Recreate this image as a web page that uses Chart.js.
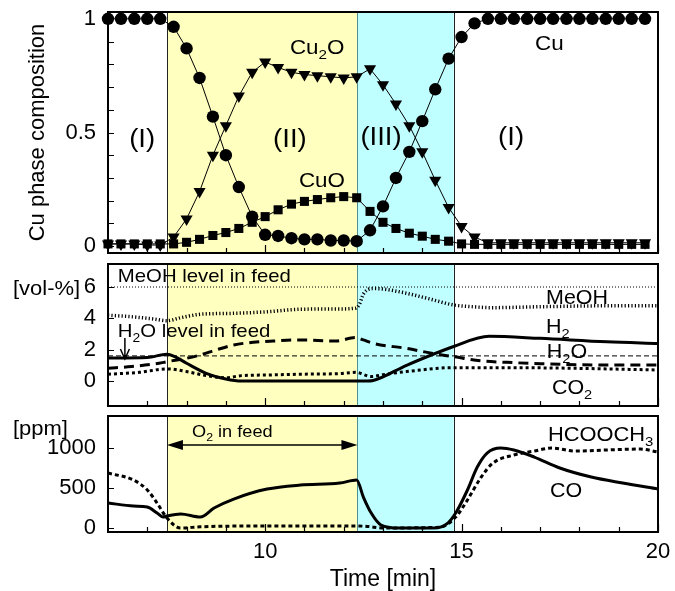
<!DOCTYPE html>
<html><head><meta charset="utf-8">
<script src="https://cdn.jsdelivr.net/npm/chart.js@4.4.1/dist/chart.umd.min.js"></script>
<style>
html,body{margin:0;padding:0;background:#fff;width:675px;height:591px;overflow:hidden;}
canvas{position:absolute;left:0;}
</style></head><body>
<canvas id="c1" width="675" height="260" style="top:0px"></canvas>
<canvas id="c2" width="675" height="150" style="top:260px"></canvas>
<canvas id="c3" width="675" height="181" style="top:410px"></canvas>
<script>
// ================= DATA =================
const phaseBounds = [7.5, 12.35, 14.8];          // (I) | (II) | (III) | (I)
const xMinorTicks = [7, 8, 9, 11, 12, 13, 14, 16, 17, 18, 19];
const xMajorTicks = [10, 15, 20];

// --- top panel: Cu phase composition ---
const compTime = [6.0, 6.33, 6.67, 7.0, 7.33, 7.67, 8.0, 8.33, 8.67, 9.0, 9.33, 9.67, 10.0, 10.33,
  10.67, 11.0, 11.33, 11.67, 12.0, 12.33, 12.67, 13.0, 13.33, 13.67, 14.0, 14.33, 14.67, 15.0,
  15.33, 15.67, 16.0, 16.33, 16.67, 17.0, 17.33, 17.67, 18.0, 18.33, 18.67, 19.0, 19.33, 19.67];
const cuPhase = [1, 1, 1, 1, 1, 0.965, 0.87, 0.74, 0.57, 0.40, 0.26, 0.13, 0.05, 0.045,
  0.035, 0.03, 0.03, 0.025, 0.025, 0.022, 0.07, 0.175, 0.30, 0.415, 0.55, 0.69, 0.825, 0.92,
  0.98, 1, 1, 1, 1, 1, 1, 1, 1, 1, 1, 1, 1, 1];
const cu2oPhase = [0.01, 0.01, 0.01, 0.005, 0.005, 0.04, 0.12, 0.24, 0.40, 0.53, 0.66, 0.765, 0.81, 0.786,
  0.765, 0.755, 0.75, 0.745, 0.74, 0.745, 0.78, 0.71, 0.625, 0.53, 0.415, 0.29, 0.17, 0.087,
  0.04, 0.015, 0.015, 0.015, 0.015, 0.015, 0.015, 0.015, 0.015, 0.015, 0.015, 0.015, 0.015, 0.015];
const cuoPhase = [0.01, 0.01, 0.01, 0.01, 0.01, 0.01, 0.017, 0.03, 0.047, 0.06, 0.078, 0.105, 0.13, 0.16,
  0.185, 0.197, 0.205, 0.213, 0.218, 0.213, 0.153, 0.105, 0.078, 0.057, 0.044, 0.03, 0.022, 0.01,
  0.008, 0.008, 0.008, 0.008, 0.008, 0.008, 0.008, 0.008, 0.008, 0.008, 0.008, 0.008, 0.008, 0.008];
const compTicks = [0, 0.1, 0.2, 0.3, 0.4, 0.5, 0.6, 0.7, 0.8, 0.9, 1];
const compTickLabels = [0, 0.5, 1];

// --- middle panel: gas phase [vol-%] ---
const meohTime = [6.0, 6.6, 7.15, 7.5, 7.85, 8.35, 9.2, 10.05, 10.9, 11.9, 12.3, 12.4, 12.5, 12.75,
  13.0, 13.6, 14.2, 14.8, 15.3, 15.75, 17.0, 18.7, 20.0];
const meohVol = [4.2, 4.1, 3.96, 3.85, 4.04, 4.26, 4.32, 4.42, 4.58, 4.6, 4.65, 4.9, 5.55, 5.9,
  5.87, 5.6, 5.23, 4.85, 4.74, 4.68, 4.74, 4.8, 4.8];
const h2Time = [6.0, 7.0, 7.5, 7.7, 8.0, 8.5, 9.0, 9.4, 12.6, 12.75, 13.6, 14.8, 15.7, 17.0, 18.7, 20.0];
const h2Vol = [1.47, 1.5, 1.7, 1.55, 1.13, 0.49, 0.13, 0.0, 0.0, 0.03, 1.0, 2.2, 2.85, 2.72, 2.5, 2.4];
const h2oTime = [6.0, 6.6, 7.3, 7.5, 8.0, 8.35, 8.75, 9.2, 9.7, 10.2, 10.9, 11.8, 12.3, 12.5, 12.75,
  13.6, 14.3, 14.8, 15.5, 16.15, 17.0, 18.7, 20.0];
const h2oVol = [0.81, 0.92, 1.13, 1.23, 1.45, 1.66, 1.98, 2.3, 2.47, 2.55, 2.62, 2.55, 2.77, 2.62, 2.4,
  2.08, 1.74, 1.55, 1.28, 1.19, 1.1, 1.02, 1.02];
const co2Time = [6.0, 6.8, 7.5, 8.0, 8.5, 9.0, 9.4, 10.05, 10.9, 11.9, 12.3, 12.7, 13.0, 13.6, 14.8, 16.2, 17.8, 20.0];
const co2Vol = [0.43, 0.55, 0.77, 0.6, 0.34, 0.21, 0.34, 0.38, 0.43, 0.47, 0.55, 0.28, 0.4, 0.6, 0.85, 0.85, 0.81, 0.7];
const levelTime = [6, 20];
const meohFeedLevel = [6, 6];
const h2oFeedLevel = [1.6, 1.6];
const volTicks = [0, 2, 4, 6];

// --- bottom panel: [ppm] ---
const coTime = [6.0, 6.65, 7.0, 7.25, 7.4, 7.5, 7.85, 8.35, 8.7, 9.2, 10.05, 10.9, 11.9, 12.33, 12.5,
  12.7, 12.95, 13.4, 14.3, 14.65, 14.85, 15.15, 15.4, 15.65, 16.0, 16.33, 16.85, 17.5, 18.3, 19.1, 20.0];
const coPpm = [312, 275, 262, 187, 137, 150, 175, 137, 250, 362, 487, 537, 562, 600, 387,
  187, 37, 0, 0, 62, 187, 475, 762, 937, 1000, 975, 887, 750, 637, 562, 487];
const hcTime = [6.0, 6.65, 7.0, 7.25, 7.5, 7.85, 8.35, 10.0, 12.33, 12.6, 13.0, 14.45, 14.85, 15.15,
  15.5, 15.8, 16.33, 16.85, 17.3, 17.9, 18.7, 19.55, 20.0];
const hcPpm = [687, 600, 475, 312, 125, 0, 15, 25, 25, 20, 0, 10, 137, 350,
  637, 812, 912, 962, 1000, 962, 975, 987, 950];
const ppmTicks = [0, 500, 1000];

// ================= RENDERING =================
const FONT = '"Liberation Sans", Arial, Helvetica, sans-serif';
Chart.defaults.font.family = FONT;
Chart.defaults.color = '#000';
const pts = (xs, ys) => xs.map((x, i) => ({x: x, y: ys[i]}));

function richParts(str) {
  const parts = []; const re = /_\{([^}]*)\}/g; let last = 0, m;
  while ((m = re.exec(str))) {
    if (m.index > last) parts.push([str.slice(last, m.index), false]);
    parts.push([m[1], true]); last = re.lastIndex;
  }
  if (last < str.length) parts.push([str.slice(last), false]);
  return parts;
}
function drawRich(ctx, str, x, y, size, align, sx) {
  const parts = richParts(str);
  const main = size + 'px ' + FONT, sub = (size * 0.68).toFixed(1) + 'px ' + FONT;
  ctx.save(); ctx.translate(x, y); ctx.scale(sx, 1);
  let w = 0;
  parts.forEach(p => { ctx.font = p[1] ? sub : main; w += ctx.measureText(p[0]).width; });
  let cx = align === 'center' ? -w / 2 : (align === 'right' ? -w : 0);
  ctx.textBaseline = 'alphabetic'; ctx.textAlign = 'left'; ctx.fillStyle = '#000';
  const base = size * 0.36;
  parts.forEach(p => {
    ctx.font = p[1] ? sub : main;
    ctx.fillText(p[0], cx, p[1] ? base + size * 0.27 : base);
    cx += ctx.measureText(p[0]).width;
  });
  ctx.restore();
}

const phaseColors = ['#ffffc0', '#c0ffff'];
const boundaryColors = ['#222', '#4f8f8f', '#222'];

const panelPlugin = {
  id: 'panel',
  beforeDatasetsDraw(chart) {
    const {ctx, chartArea: a} = chart; const x = chart.scales.x;
    ctx.save();
    for (let i = 0; i < 2; i++) {
      const x0 = x.getPixelForValue(phaseBounds[i]), x1 = x.getPixelForValue(phaseBounds[i + 1]);
      ctx.fillStyle = phaseColors[i]; ctx.fillRect(x0, a.top, x1 - x0, a.bottom - a.top);
    }
    ctx.lineWidth = 1;
    phaseBounds.forEach((b, i) => {
      const px = Math.round(x.getPixelForValue(b)) + 0.5;
      ctx.strokeStyle = boundaryColors[i]; ctx.beginPath(); ctx.moveTo(px, a.top); ctx.lineTo(px, a.bottom); ctx.stroke();
    });
    ctx.restore();
  },
  afterDatasetsDraw(chart, args, opts) {
    const {ctx, chartArea: a} = chart; const x = chart.scales.x, y = chart.scales.y;
    ctx.save();
    ctx.strokeStyle = '#000'; ctx.lineWidth = 1.2;
    ctx.beginPath();
    y.ticks.forEach(t => { const py = Math.round(y.getPixelForValue(t.value)) + 0.5; ctx.moveTo(a.left, py); ctx.lineTo(a.left + 6, py); });
    xMinorTicks.forEach(v => { const px = Math.round(x.getPixelForValue(v)) + 0.5; ctx.moveTo(px, a.bottom); ctx.lineTo(px, a.bottom - 5); });
    xMajorTicks.forEach(v => { const px = Math.round(x.getPixelForValue(v)) + 0.5; ctx.moveTo(px, a.bottom); ctx.lineTo(px, a.bottom - 8); });
    ctx.stroke();
    ctx.lineWidth = 2;
    ctx.strokeRect(a.left, a.top, a.right - a.left, a.bottom - a.top);
    (opts.arrows || []).forEach(ar => {
      ctx.lineWidth = 1.5; ctx.strokeStyle = '#000'; ctx.fillStyle = '#000';
      if (ar.type === 'down') {
        const px = x.getPixelForValue(ar.x), p0 = y.getPixelForValue(ar.y0), p1 = y.getPixelForValue(ar.y1);
        ctx.beginPath(); ctx.moveTo(px, p0); ctx.lineTo(px, p1);
        ctx.moveTo(px - 4.5, p1 - 10); ctx.lineTo(px, p1); ctx.lineTo(px + 4.5, p1 - 10); ctx.stroke();
      } else {
        const x0 = x.getPixelForValue(ar.x0), x1 = x.getPixelForValue(ar.x1), py = y.getPixelForValue(ar.y);
        ctx.beginPath(); ctx.moveTo(x0 + 10, py); ctx.lineTo(x1 - 10, py); ctx.stroke();
        ctx.beginPath(); ctx.moveTo(x0, py); ctx.lineTo(x0 + 16, py - 5); ctx.lineTo(x0 + 16, py + 5); ctx.closePath(); ctx.fill();
        ctx.beginPath(); ctx.moveTo(x1, py); ctx.lineTo(x1 - 16, py - 5); ctx.lineTo(x1 - 16, py + 5); ctx.closePath(); ctx.fill();
      }
    });
    (opts.labels || []).forEach(l => {
      drawRich(ctx, l.text, x.getPixelForValue(l.x), y.getPixelForValue(l.y), l.size, l.align || 'left', l.sx || 1.1);
    });
    ctx.restore();
  }
};
Chart.register(panelPlugin);

function zeroPad(s) { s.paddingTop = 0; s.paddingBottom = 0; s.paddingLeft = 0; s.paddingRight = 0; }

function makeOptions(cfg) {
  return {
    responsive: false, animation: false, events: [],
    layout: {padding: {left: 0, right: 17, top: cfg.padTop, bottom: cfg.padBottom}},
    plugins: {legend: {display: false}, tooltip: {enabled: false},
      panel: {labels: cfg.labels, arrows: cfg.arrows || []}},
    elements: {point: {radius: 0}},
    scales: {
      x: {type: 'linear', min: 6, max: 20, display: !!cfg.showX,
        grid: {display: false, drawTicks: false}, border: {display: false},
        ticks: {stepSize: 1, autoSkip: false, maxRotation: 0, padding: 7, font: {size: 22}, color: '#000',
          callback: v => xMajorTicks.includes(v) ? String(v) : ''},
        afterBuildTicks: s => { s.ticks = xMajorTicks.map(v => ({value: v})); },
        title: {display: !!cfg.showX, text: 'Time [min]', font: {size: 23, lineHeight: 1}, padding: 0, color: '#000'},
        afterFit: s => { zeroPad(s); if (cfg.showX) s.height = cfg.xHeight; }},
      y: {type: 'linear', min: cfg.yMin, max: cfg.yMax,
        grid: {display: false, drawTicks: false}, border: {display: false},
        ticks: {autoSkip: false, padding: 12, font: {size: 22}, color: '#000', callback: cfg.yLabel},
        afterBuildTicks: s => { s.ticks = cfg.yTicks.map(v => ({value: v})); },
        title: cfg.yTitle || {display: false},
        afterFit: s => { zeroPad(s); s.width = 108; }}
    }
  };
}

// ---- chart 1 ----
new Chart(document.getElementById('c1'), {
  type: 'line',
  data: {datasets: [
    {data: pts(compTime, cuPhase), borderColor: '#000', backgroundColor: '#000', borderWidth: 1,
      pointStyle: 'circle', pointRadius: 6.2, pointBorderWidth: 0, pointBackgroundColor: '#000', tension: 0, clip: false},
    {data: pts(compTime, cu2oPhase), borderColor: '#000', backgroundColor: '#000', borderWidth: 1,
      pointStyle: 'triangle', pointRotation: 180, pointRadius: 7, pointBorderWidth: 0, pointBackgroundColor: '#000', tension: 0, clip: false},
    {data: pts(compTime, cuoPhase), borderColor: '#000', backgroundColor: '#000', borderWidth: 1,
      pointStyle: 'rect', pointRadius: 6.4, pointBorderWidth: 0, pointBackgroundColor: '#000', tension: 0, clip: false}
  ]},
  options: makeOptions({padTop: 12, padBottom: 5, yMin: -0.03, yMax: 1.03, yTicks: compTicks,
    yLabel: v => compTickLabels.some(c => Math.abs(c - v) < 1e-6) ? String(+(+v).toFixed(2)) : '',
    yTitle: {display: true, text: 'Cu phase composition', font: {size: 22, lineHeight: 1}, padding: {top: 27, bottom: 0}, color: '#000'},
    labels: [
      {text: '(I)', x: 6.87, y: 0.476, size: 25, align: 'center'},
      {text: '(II)', x: 10.63, y: 0.476, size: 25, align: 'center'},
      {text: '(III)', x: 12.95, y: 0.486, size: 25, align: 'center'},
      {text: '(I)', x: 16.26, y: 0.486, size: 25, align: 'center'},
      {text: 'Cu_{2}O', x: 10.63, y: 0.879, size: 20, sx: 1.12},
      {text: 'CuO', x: 10.86, y: 0.29, size: 20, sx: 1.12},
      {text: 'Cu', x: 16.87, y: 0.894, size: 20, sx: 1.12}
    ]})
});

// ---- chart 2 ----
new Chart(document.getElementById('c2'), {
  type: 'line',
  data: {datasets: [
    {data: pts(levelTime, meohFeedLevel), borderColor: '#000', borderWidth: 1, borderDash: [1, 2], pointRadius: 0},
    {data: pts(levelTime, h2oFeedLevel), borderColor: '#000', borderWidth: 1, borderDash: [5, 3], pointRadius: 0},
    {data: pts(meohTime, meohVol), borderColor: '#000', borderWidth: 3.5, borderDash: [1.2, 2.2], pointRadius: 0, cubicInterpolationMode: 'monotone'},
    {data: pts(h2Time, h2Vol), borderColor: '#000', borderWidth: 3, pointRadius: 0, cubicInterpolationMode: 'monotone'},
    {data: pts(h2oTime, h2oVol), borderColor: '#000', borderWidth: 3, borderDash: [10, 6], pointRadius: 0, cubicInterpolationMode: 'monotone'},
    {data: pts(co2Time, co2Vol), borderColor: '#000', borderWidth: 3, borderDash: [3, 3], pointRadius: 0, cubicInterpolationMode: 'monotone'}
  ]},
  options: makeOptions({padTop: 4, padBottom: 4, yMin: -1.6, yMax: 7.47, yTicks: volTicks,
    yLabel: v => String(v),
    arrows: [{type: 'down', x: 6.43, y0: 2.74, y1: 1.4}],
    labels: [
      {text: 'MeOH level in feed', x: 6.25, y: 6.77, size: 18.5},
      {text: 'H_{2}O level in feed', x: 6.25, y: 3.26, size: 18.5},
      {text: 'MeOH', x: 17.15, y: 5.39, size: 19.5},
      {text: 'H_{2}', x: 17.15, y: 3.51, size: 19.5},
      {text: 'H_{2}O', x: 17.17, y: 1.91, size: 19.5},
      {text: 'CO_{2}', x: 17.3, y: -0.38, size: 19.5},
      {text: '[vol-%]', x: 3.58, y: 5.94, size: 20}
    ]})
});

// ---- chart 3 ----
new Chart(document.getElementById('c3'), {
  type: 'line',
  data: {datasets: [
    {data: pts(coTime, coPpm), borderColor: '#000', borderWidth: 3, pointRadius: 0, cubicInterpolationMode: 'monotone'},
    {data: pts(hcTime, hcPpm), borderColor: '#000', borderWidth: 3, borderDash: [4, 3], pointRadius: 0, cubicInterpolationMode: 'monotone'}
  ]},
  options: makeOptions({padTop: 6, padBottom: 0, showX: true, xHeight: 59, yMin: -50, yMax: 1400, yTicks: ppmTicks,
    yLabel: v => String(v),
    arrows: [{type: 'double', x0: 7.5, x1: 12.35, y: 1037}],
    labels: [
      {text: 'O_{2} in feed', x: 8.14, y: 1212, size: 16.5},
      {text: 'HCOOCH_{3}', x: 17.2, y: 1175, size: 19.5, sx: 1.12},
      {text: 'CO', x: 17.25, y: 475, size: 19.5},
      {text: '[ppm]', x: 3.58, y: 1250, size: 20}
    ]})
});
</script>
</body></html>
